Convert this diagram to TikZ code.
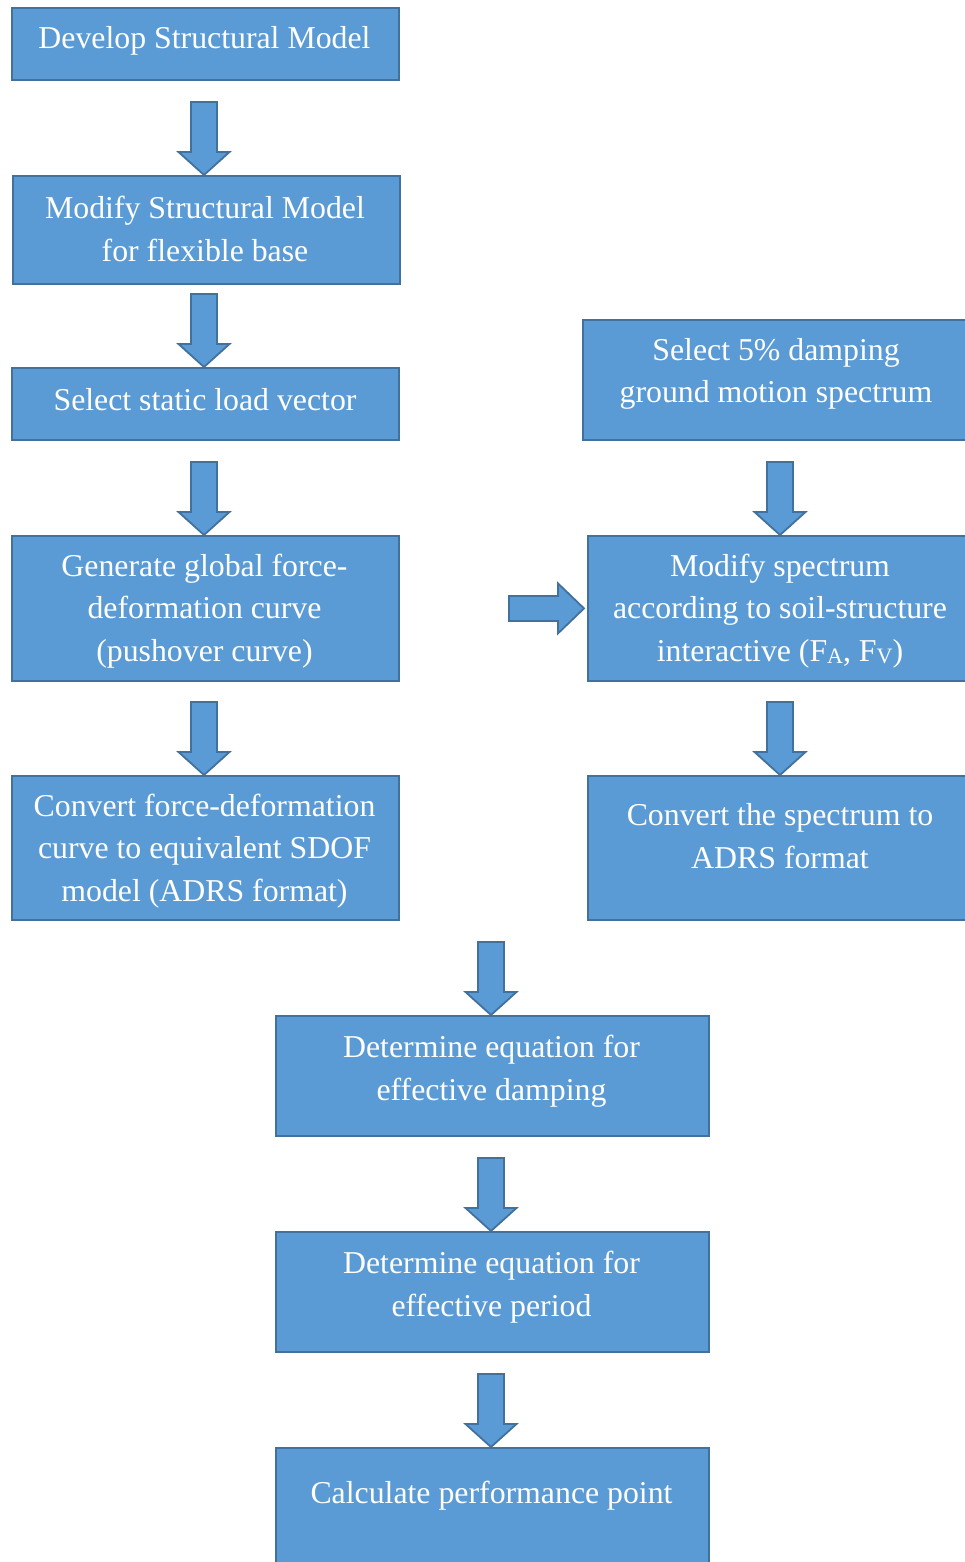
\documentclass[tikz,border=0pt]{standalone}
\usepackage{fontspec}
\setmainfont{Liberation Serif}
\usetikzlibrary{calc}
\definecolor{boxfill}{HTML}{5B9BD5}
\definecolor{boxline}{HTML}{41719C}
\newcommand\lowsub[1]{\raisebox{-0.08em}{\fontsize{22}{22}\selectfont #1}}
\tikzset{
  box/.style={fill=boxfill, draw=boxline, line width=1.8pt},
  blk/.style={fill=boxfill, draw=boxline, line width=1.8pt, line join=miter},
  txt/.style={text=white, align=center, inner sep=0pt, font=\fontsize{31.8}{42.5}\selectfont}
}
\newcommand\dnarrow[3]{% from, to, x (pt)
  \draw[blk] let \p2=(#2.north) in
    ({#3pt-13pt},{\y2+73pt}) -- ({#3pt+13pt},{\y2+73pt}) -- ({#3pt+13pt},{\y2+23pt})
    -- ({#3pt+25.5pt},{\y2+23pt}) -- ({#3pt},{\y2}) -- ({#3pt-25.5pt},{\y2+23pt})
    -- ({#3pt-13pt},{\y2+23pt}) -- cycle;}
\begin{document}
\begin{tikzpicture}[x=1pt,y=1pt]
\useasboundingbox (0,0) rectangle (965,-1562);
% boxes
\node[box, minimum width=387pt, minimum height=72pt, anchor=north west] (b1) at (11,-7) {};
\node[box, minimum width=387pt, minimum height=108pt, anchor=north west] (b2) at (12,-175) {};
\node[box, minimum width=387pt, minimum height=72pt, anchor=north west] (b3) at (11,-367) {};
\node[box, minimum width=387pt, minimum height=145pt, anchor=north west] (b4) at (11,-535) {};
\node[box, minimum width=387pt, minimum height=144pt, anchor=north west] (b5) at (11,-775) {};
\node[box, minimum width=395pt, minimum height=120pt, anchor=north west] (r1) at (582,-319) {};
\node[box, minimum width=390pt, minimum height=145pt, anchor=north west] (r2) at (587,-535) {};
\node[box, minimum width=390pt, minimum height=144pt, anchor=north west] (r3) at (587,-775) {};
\node[box, minimum width=433pt, minimum height=120pt, anchor=north west] (c1) at (275,-1015) {};
\node[box, minimum width=433pt, minimum height=120pt, anchor=north west] (c2) at (275,-1231) {};
\node[box, minimum width=433pt, minimum height=140pt, anchor=north west] (c3) at (275,-1447) {};
% texts
\node[txt] (t1) at (204.5,-41) {Develop Structural Model};
\node[txt] (t2) at (205,-229) {Modify Structural Model\\for flexible base};
\node[txt] (t3) at (205,-400) {Select static load vector};
\node[txt] (t4) at (204.5,-611) {Generate global force-\\deformation curve\\(pushover curve)};
\node[txt] (t5) at (204.5,-851) {Convert force-deformation\\curve to equivalent SDOF\\model (ADRS format)};
\node[txt] (tr1) at (776,-374) {Select 5\% damping\\ground motion spectrum};
\node[txt] (tr2) at (780,-611) {Modify spectrum\\according to soil-structure\\interactive (F\lowsub{A}, F\lowsub{V})};
\node[txt] (tr3) at (780,-836) {Convert the spectrum to\\ADRS format};
\node[txt] (tc1) at (491.5,-1071) {Determine equation for\\effective damping};
\node[txt] (tc2) at (491.5,-1287) {Determine equation for\\effective period};
\node[txt] (tc3) at (491.5,-1496) {Calculate performance point};
% arrows
\dnarrow{b1}{b2}{204}
\dnarrow{b2}{b3}{204}
\dnarrow{b3}{b4}{204}
\dnarrow{b4}{b5}{204}
\dnarrow{r1}{r2}{780}
\dnarrow{r2}{r3}{780}
\dnarrow{b5}{c1}{491}
\dnarrow{c1}{c2}{491}
\dnarrow{c2}{c3}{491}
\draw[blk] let \p1=(b4.east), \p2=(r2.west) in
  ({\x2-78pt},{\y2+12.5pt}) -- ({\x2-29pt},{\y2+12.5pt}) -- ({\x2-29pt},{\y2+25pt})
  -- ({\x2-3pt},{\y2}) -- ({\x2-29pt},{\y2-25pt}) -- ({\x2-29pt},{\y2-12.5pt})
  -- ({\x2-78pt},{\y2-12.5pt}) -- cycle;
\end{tikzpicture}
\end{document}
